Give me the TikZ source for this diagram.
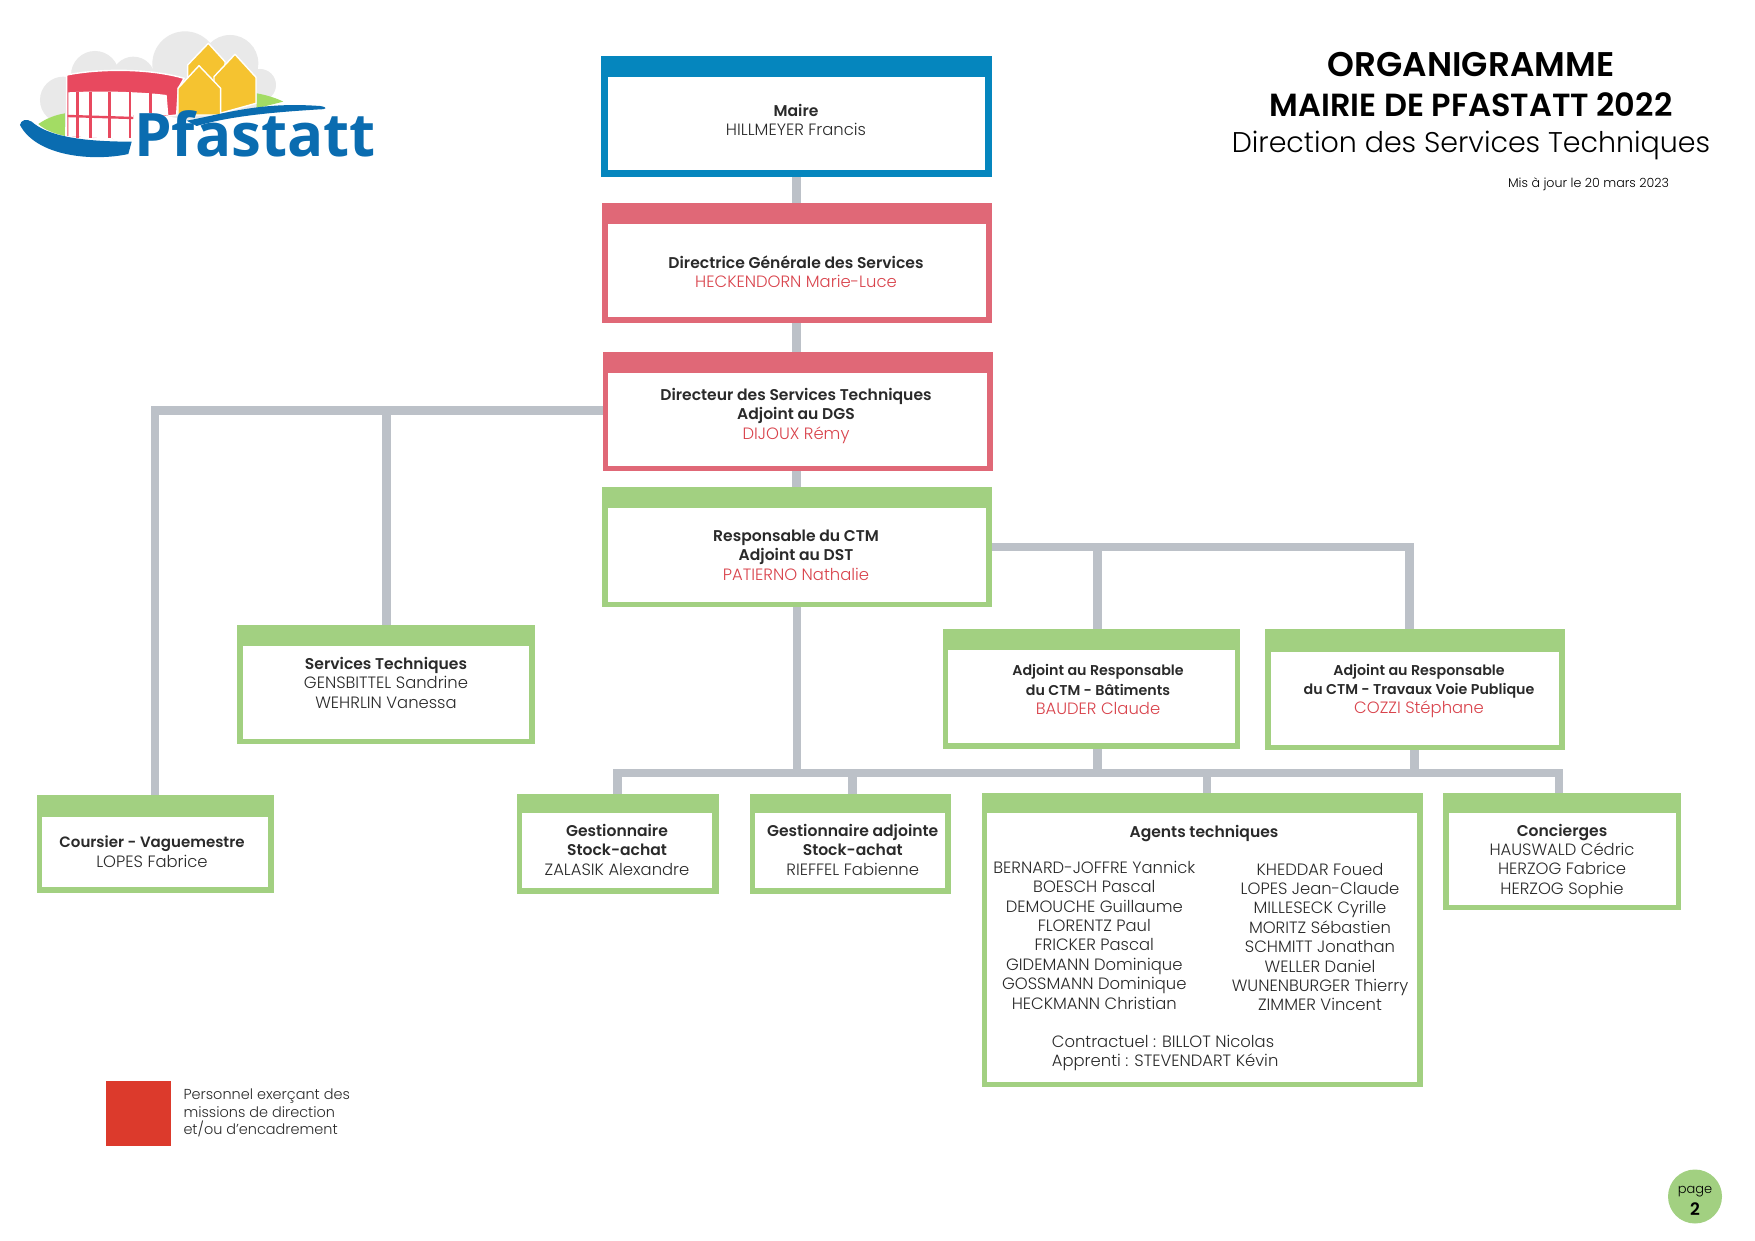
\documentclass[tikz,border=0pt]{standalone}
\usepackage{fontspec}
\setmainfont{Poppins Light}[BoldFont=Poppins SemiBold,BoldFeatures={Scale=0.95}]
\newfontfamily\logofont{Open Sans}[Scale=1]
\newfontfamily\headfont{Poppins SemiBold}
\definecolor{cblue}{HTML}{0586BE}
\definecolor{cpink}{HTML}{E06877}
\definecolor{cgreen}{HTML}{A2D081}
\definecolor{cgrey}{HTML}{BCC1C8}
\definecolor{cred}{HTML}{D9434C}
\definecolor{cname}{HTML}{2A2A2A}
\definecolor{csq}{HTML}{DC3A2C}
\definecolor{lgrey}{HTML}{E9E9E9}
\definecolor{lgreen}{HTML}{A3DC64}
\definecolor{lred}{HTML}{E8495F}
\definecolor{lyel}{HTML}{F5C330}
\definecolor{lblue}{HTML}{0A6CB0}
\newcommand{\orgbox}[9]{% name colour x0 y0 x1 y1 ix0 iy0 ix1 ; inner bottom in \ib
  \node[anchor=north west,fill=#2,inner sep=0pt,outer sep=0pt,
        minimum width={(#5-#3)*1pt},minimum height={(#6-#4)*1pt}] (#1) at (#3,#4) {};
  \fill[white] (#7,#8) rectangle (#9,\ib);}
\newcommand{\ib}{0}
\newcommand{\rn}[1]{\textcolor{cred}{#1}}
\newcommand{\bn}[1]{{\fontsize{15}{19.4}\selectfont\textbf{#1}}}
\newcommand{\bc}[1]{{\fontsize{15.8}{19.4}\selectfont\textbf{#1}}}
\tikzset{
  txt/.style={font=\fontsize{16.4}{19.4}\selectfont,align=center,inner sep=0pt,text=cname},
  conn/.style={draw=cgrey,line width=8.7pt},
}
\begin{document}
\begin{tikzpicture}[x=1pt,y=-1pt]
\useasboundingbox (0,0) rectangle (1755,1241);
\fill[white] (0,0) rectangle (1755,1241);

\renewcommand{\ib}{170}\orgbox{maire}{cblue}{601}{56}{992}{177}{608}{77}{985}
\renewcommand{\ib}{317}\orgbox{dgs}{cpink}{602}{203}{992}{323}{608}{224}{986}
\renewcommand{\ib}{465.8}\orgbox{dst}{cpink}{602.8}{351.5}{992.7}{471.3}{608.3}{372.6}{987}
\renewcommand{\ib}{601.6}\orgbox{ctm}{cgreen}{602}{487}{992}{606.7}{607.6}{508}{986}
\renewcommand{\ib}{738.5}\orgbox{serv}{cgreen}{237.4}{624.5}{535}{744}{243}{645.5}{529.4}
\renewcommand{\ib}{886.9}\orgbox{cour}{cgreen}{36.5}{794.5}{273.6}{892.8}{42}{816.5}{268}
\renewcommand{\ib}{888}\orgbox{gesta}{cgreen}{516.5}{794}{718.5}{893.5}{522}{813.3}{712}
\renewcommand{\ib}{888}\orgbox{gestb}{cgreen}{749.5}{794}{951}{893.5}{755}{813.3}{945}
\renewcommand{\ib}{743}\orgbox{adja}{cgreen}{942.5}{629}{1240}{748.8}{948}{650}{1234.5}
\renewcommand{\ib}{745}\orgbox{adjb}{cgreen}{1265}{629}{1564.5}{750}{1271}{651.5}{1558.5}
\renewcommand{\ib}{1081.7}\orgbox{agents}{cgreen}{982}{793}{1423}{1086.7}{987.3}{813}{1416.7}
\renewcommand{\ib}{904.5}\orgbox{conc}{cgreen}{1443}{793}{1681}{909.8}{1448.5}{813.2}{1675.5}

% connectors
\coordinate (busy) at (0,773);
\coordinate (lty) at (0,410.5);
\coordinate (concj) at ([xshift=-3pt]conc.north);
\draw[conn] (maire.south) -- (maire.south |- dgs.north);
\draw[conn] (maire.south |- dgs.south) -- (maire.south |- dst.north);
\draw[conn] (maire.south |- dst.south) -- (maire.south |- ctm.north);
\draw[conn] (dst.west |- lty) -| (cour.north);
\draw[conn] (dst.west |- lty) -| (serv.north);
\draw[conn] (ctm.east) -| ([xshift=6pt]adja.north);
\draw[conn] (ctm.east) -| ([xshift=-5.5pt]adjb.north);
\draw[conn] (gesta.north) |- (busy -| concj) -- (concj);
\draw[conn] (ctm.south) -- (ctm.south |- busy);
\draw[conn] ([xshift=2.3pt]gestb.north) -- ([xshift=2.3pt]gestb.north |- busy);
\draw[conn] ([xshift=4.5pt]agents.north) -- ([xshift=4.5pt]agents.north |- busy);
\draw[conn] ([xshift=6pt]adja.south) -- ([xshift=6pt]adja.south |- busy);
\draw[conn] (adjb.south) -- (adjb.south |- busy);

% box texts
\node[txt] (tmaire) at (796,120) {\textbf{Maire}\\HILLMEYER Francis};
\node[txt] (tdgs) at (796,271.5) {\textbf{Directrice Générale des Services}\\\rn{HECKENDORN Marie-Luce}};
\node[txt] (tdst) at (796,415.6) {\textbf{Directeur des Services Techniques}\\\textbf{Adjoint au DGS}\\\rn{DIJOUX Rémy}};
\node[txt] (tctm) at (796,555) {\textbf{Responsable du CTM}\\\textbf{Adjoint au DST}\\\rn{PATIERNO Nathalie}};
\node[txt] (tserv) at (386,682.8) {\textbf{Services Techniques}\\GENSBITTEL Sandrine\\WEHRLIN Vanessa};
\node[txt] (tcour) at (152,851.8) {\bc{Coursier - Vaguemestre}\\LOPES Fabrice};
\node[txt] (tgesta) at (617,849.7) {\textbf{Gestionnaire}\\\textbf{Stock-achat}\\ZALASIK Alexandre};
\node[txt] (tgestb) at (852.7,849.7) {\textbf{Gestionnaire adjointe}\\\textbf{Stock-achat}\\RIEFFEL Fabienne};
\node[txt] (tadja) at (1098,689.5) {\bn{Adjoint au Responsable}\\\bn{du CTM - Bâtiments}\\\rn{BAUDER Claude}};
\node[txt] (tadjb) at (1419,691) {\bn{Adjoint au Responsable}\\\bn{du CTM - Travaux Voie Publique}\\\rn{COZZI Stéphane}};
\node[txt] (tagt) at (1204,834) {\textbf{Agents techniques}};
\node[txt] (tagl) at (1094.3,935) {BERNARD-JOFFRE Yannick\\BOESCH Pascal\\DEMOUCHE Guillaume\\FLORENTZ Paul\\FRICKER Pascal\\GIDEMANN Dominique\\GOSSMANN Dominique\\HECKMANN Christian};
\node[txt] (tagr) at (1320,937) {KHEDDAR Foued\\LOPES Jean-Claude\\MILLESECK Cyrille\\MORITZ Sébastien\\SCHMITT Jonathan\\WELLER Daniel\\WUNENBURGER Thierry\\ZIMMER Vincent};
\node[txt,align=left,anchor=west] (tagc) at (1051.7,1052.7) {Contractuel : BILLOT Nicolas\\Apprenti : STEVENDART Kévin};
\node[txt] (tconc) at (1562,861.2) {\textbf{Concierges}\\HAUSWALD Cédric\\HERZOG Fabrice\\HERZOG Sophie};

% title
\node[inner sep=0pt,font=\headfont\fontsize{34.2}{40}\selectfont] (t1) at (1471,65) {ORGANIGRAMME};
\node[inner sep=0pt,font=\headfont\fontsize{32}{40}\selectfont] (t2) at (1471,105) {MAIRIE DE PFASTATT 2022};
\node[inner sep=0pt,font=\fontsize{28.5}{38}\selectfont] (t3) at (1471,145) {Direction des Services Techniques};
\node[inner sep=0pt,font=\fontsize{12.65}{14}\selectfont] (t4) at (1588.5,184.5) {Mis à jour le 20 mars 2023};

% legend
\node[anchor=north west,fill=csq,inner sep=0pt,minimum width=65.4pt,minimum height=65pt] (sq) at (105.3,1081) {};
\node[anchor=west,align=left,inner sep=0pt,text=cname,font=\fontsize{14.45}{17.8}\selectfont] (leg) at (183.3,1113) {Personnel exerçant des\\missions de direction\\et/ou d’encadrement};

% page badge
\node[circle,fill=cgreen,inner sep=0pt,minimum size=54pt] (pg) at (1695,1196.5) {};
\node[inner sep=0pt,font=\fontsize{13}{15}\selectfont] (pga) at (1695,1192) {page};
\node[inner sep=0pt,font=\fontsize{18}{20}\selectfont\bfseries] (pgb) at (1695,1209) {2};

% logo
\begin{scope}[scale=1/3]
\fill[lgrey] (190,300) circle (70);
\fill[lgrey] (285,225) circle (72);
\fill[lgrey] (400,235) circle (65);
\fill[lgrey] (555,192) circle (98);
\fill[lgrey] (690,190) circle (85);
\fill[lgrey] (780,255) circle (48);
\fill[lgrey] (180,240) rectangle (780,380);
\fill[lgreen] (115,372) .. controls (140,355) and (165,345) .. (195,340) -- (195,408) .. controls (160,400) and (135,390) .. (115,372) -- cycle;
\fill[lgreen] (770,280) .. controls (800,285) and (830,295) .. (850,305) -- (770,325) -- cycle;
% building
\fill[lred,draw=white,line width=1.4pt] (200,225) .. controls (300,205) and (450,205) .. (552,235) -- (535,265) -- (530,345) -- (400,360) -- (400,420) -- (200,410) -- cycle;
\fill[white] (205,277) .. controls (300,272) and (420,275) .. (500,285) -- (505,345) -- (400,345) -- (400,420) -- (205,408) -- cycle;
\foreach \xa in {232,272,328,390,452} {\draw[lred,line width=2.4pt] (\xa,275) -- (\xa,415);}
\fill[white] (395,358) rectangle (470,420);
\draw[lred,line width=2.4pt] (203,348) -- (400,354);
% houses
\fill[lyel,draw=white,line width=1.4pt,line join=round] (563,240) -- (563,195) -- (625,130) -- (675,185) -- (675,260) -- cycle;
\fill[lyel,draw=white,line width=1.4pt,line join=round] (642,345) -- (642,230) -- (705,163) -- (768,232) -- (768,310) -- cycle;
\fill[lyel,draw=white,line width=1.4pt,line join=round] (534,345) -- (534,265) -- (597,197) -- (662,265) -- (662,345) -- cycle;
% river
\fill[white] (400,330) -- (560,360) -- (850,330) -- (850,480) -- (400,480) -- cycle;
\fill[lblue] (60,375) .. controls (62,360) and (80,355) .. (95,365) .. controls (140,405) and (230,425) .. (395,425) -- (385,462) .. controls (280,485) and (110,470) .. (60,375) -- cycle;
\fill[lblue] (560,362) .. controls (680,340) and (780,305) .. (960,318) .. controls (985,322) and (980,328) .. (960,328) .. controls (850,335) and (700,345) .. (590,378) -- cycle;
\end{scope}
\node[anchor=base west,inner sep=0pt,text=lblue,font=\logofont\fontsize{60}{70}\selectfont\bfseries] (logo) at (134,156.5) {Pfastatt};
\end{tikzpicture}
\end{document}
